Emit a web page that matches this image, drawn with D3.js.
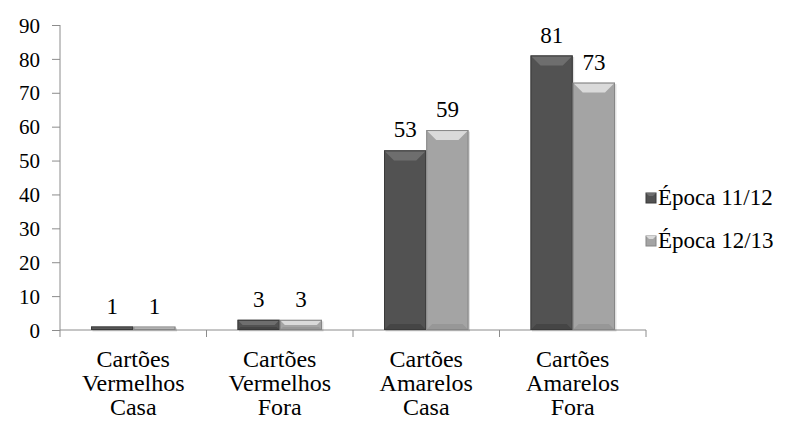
<!DOCTYPE html>
<html>
<head>
<meta charset="utf-8">
<script src="https://cdn.jsdelivr.net/npm/d3@7"></script>
</head>
<body style="margin:0">
<div class="chart"></div>
<script>
// data
var categories = [
  ["Cartões", "Vermelhos", "Casa"],
  ["Cartões", "Vermelhos", "Fora"],
  ["Cartões", "Amarelos", "Casa"],
  ["Cartões", "Amarelos", "Fora"]
];
var seriesNames = ["Época 11/12", "Época 12/13"];
var epoca1112 = [1, 3, 53, 81];
var epoca1213 = [1, 3, 59, 73];
var yTicks = [0, 10, 20, 30, 40, 50, 60, 70, 80, 90];

var serif = "Times New Roman";
var axisColor = "#8c8c8c";

// svg setup
var svgWidth = 788, svgHeight = 421;
var margin = { top: 25, left: 60 };
var chartWidth = 586, chartHeight = 305;

var svg = d3.select(".chart").append("svg")
  .attr("width", svgWidth)
  .attr("height", svgHeight);

var chartGroup = svg.append("g")
  .attr("transform", `translate(${margin.left}, ${margin.top})`);

// bar styles per series
var styles = [
  { fill: "#525252", top: "#6e6e6e", bottom: "#454545", stroke: "#3a3a3a" },
  { fill: "#a4a4a4", top: "#dadada", bottom: "#979797", stroke: "#868686" }
];

// scales
var xScale = d3.scaleBand()
  .domain(d3.range(categories.length))
  .range([0, chartWidth]);

var xInner = d3.scaleBand()
  .domain([0, 1])
  .range([31, xScale.bandwidth() - 31]);

var yScale = d3.scaleLinear()
  .domain([0, 90])
  .range([chartHeight, 0]);

// y axis
var leftAxis = d3.axisLeft(yScale).tickValues(yTicks).tickSize(8).tickSizeOuter(0);
var yAxis = chartGroup.append("g").call(leftAxis)
  .attr("font-family", serif)
  .attr("font-size", 21);
yAxis.select(".domain").attr("d", `M0,${yScale(90)}V${yScale(0)}`).attr("stroke", axisColor);
yAxis.selectAll("line").attr("stroke", axisColor);
yAxis.selectAll("text")
  .attr("x", -20)
  .attr("dy", "0.34em")
  .attr("fill", "#000");

// x axis (category boundaries)
var xAxis = chartGroup.append("g")
  .attr("transform", `translate(0, ${chartHeight})`)
  .attr("stroke", axisColor);
xAxis.append("line").attr("x1", 0).attr("x2", chartWidth);
xAxis.selectAll(".tk")
  .data(d3.range(categories.length + 1))
  .enter().append("line")
  .attr("x1", d => d * xScale.step())
  .attr("x2", d => d * xScale.step())
  .attr("y1", 0).attr("y2", 7);

// bars
var series = [epoca1112, epoca1213];
series.forEach(function(values, s) {
  var st = styles[s];
  var g = chartGroup.append("g");
  values.forEach(function(v, i) {
    var x0 = xScale(i) + xInner(s);
    var w = xInner.bandwidth();
    var y0 = yScale(v);
    var h = yScale(0) - y0;
    var b = Math.min(10, h / 2);

    // soft shadow
    g.append("rect")
      .attr("x", x0 + 1.5).attr("y", y0 + 1.5)
      .attr("width", w).attr("height", h)
      .attr("fill", "#000").attr("opacity", 0.12);

    g.append("rect")
      .attr("x", x0).attr("y", y0)
      .attr("width", w).attr("height", h)
      .attr("fill", st.fill);

    // top bevel
    g.append("polygon")
      .attr("points", [[x0, y0], [x0 + w, y0], [x0 + w - b, y0 + b], [x0 + b, y0 + b]].join(" "))
      .attr("fill", st.top);
    // bottom bevel
    g.append("polygon")
      .attr("points", [[x0, y0 + h], [x0 + w, y0 + h], [x0 + w - b * 0.6, y0 + h - b * 0.6], [x0 + b * 0.6, y0 + h - b * 0.6]].join(" "))
      .attr("fill", st.bottom);

    g.append("rect")
      .attr("x", x0 + 0.5).attr("y", y0 + 0.5)
      .attr("width", w - 1).attr("height", Math.max(h - 1, 0))
      .attr("fill", "none").attr("stroke", st.stroke);

    // value label
    g.append("text")
      .attr("x", x0 + w / 2)
      .attr("y", y0 - 13)
      .attr("text-anchor", "middle")
      .attr("font-family", serif)
      .attr("font-size", 23)
      .text(v);
  });
});

// category labels
categories.forEach(function(lines, i) {
  var cx = xScale(i) + xScale.bandwidth() / 2;
  lines.forEach(function(t, j) {
    chartGroup.append("text")
      .attr("x", cx)
      .attr("y", chartHeight + 37 + j * 24)
      .attr("text-anchor", "middle")
      .attr("font-family", serif)
      .attr("font-size", 24)
      .text(t);
  });
});

// legend
var legend = svg.append("g").attr("transform", "translate(646, 193)");
seriesNames.forEach(function(name, s) {
  var st = styles[s];
  var row = legend.append("g").attr("transform", `translate(0, ${s * 43})`);
  row.append("rect").attr("width", 10).attr("height", 10)
    .attr("fill", st.fill).attr("stroke", st.stroke);
  row.append("polygon")
    .attr("points", "0,0 10,0 7,3 3,3")
    .attr("fill", st.top);
  row.append("text")
    .attr("x", 12)
    .attr("y", 12)
    .attr("font-family", serif)
    .attr("font-size", 23)
    .text(name);
});
</script>
</body>
</html>
